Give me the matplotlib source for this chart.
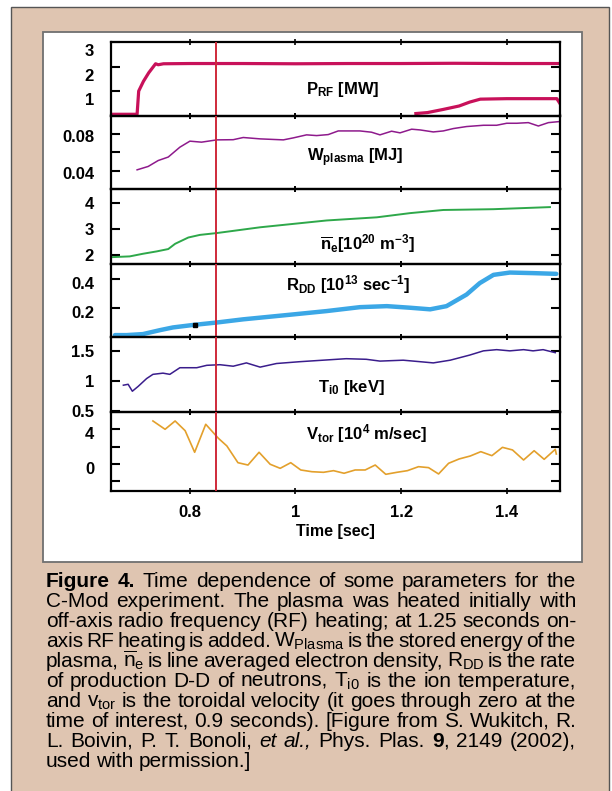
import numpy as np
import matplotlib.pyplot as plt
import matplotlib.transforms as mtransforms
from matplotlib.patches import Rectangle

plt.rcParams['font.family'] = ['Liberation Sans', 'DejaVu Sans']
plt.rcParams['mathtext.fontset'] = 'custom'
plt.rcParams['mathtext.rm'] = 'Liberation Sans'
plt.rcParams['mathtext.bf'] = 'Liberation Sans:bold'
plt.rcParams['mathtext.it'] = 'Liberation Sans:italic'
plt.rcParams['mathtext.sf'] = 'Liberation Sans'

# --- data ---
t_rf1 = [0.65, 0.700, 0.703, 0.712, 0.722, 0.735, 0.74, 0.75, 0.8, 0.9, 1.0, 1.1, 1.2, 1.3, 1.4, 1.5]
p_rf1 = [0.05, 0.05, 1.0, 1.4, 1.75, 2.12, 2.08, 2.12, 2.13, 2.13, 2.12, 2.13, 2.13, 2.14, 2.13, 2.13]
t_rf2 = [1.228, 1.25, 1.28, 1.31, 1.33, 1.35, 1.40, 1.45, 1.495, 1.50]
p_rf2 = [0.08, 0.12, 0.25, 0.39, 0.55, 0.67, 0.69, 0.69, 0.69, 0.52]

t_w = [0.700, 0.721, 0.740, 0.759, 0.781, 0.800, 0.822, 0.851, 0.882, 0.901, 0.933, 0.977, 0.996,
       1.021, 1.040, 1.062, 1.081, 1.122, 1.144, 1.160, 1.182, 1.198, 1.220, 1.236, 1.261, 1.280,
       1.299, 1.324, 1.356, 1.381, 1.400, 1.419, 1.441, 1.460, 1.479, 1.499]
w_plasma = [0.041, 0.0447, 0.0512, 0.055, 0.0658, 0.0724, 0.0713, 0.0738, 0.074, 0.0764, 0.0749,
            0.0738, 0.076, 0.0793, 0.0785, 0.0796, 0.0836, 0.0836, 0.0822, 0.0793, 0.0833, 0.0815,
            0.0855, 0.0847, 0.0825, 0.0836, 0.0862, 0.0884, 0.0898, 0.0898, 0.092, 0.092, 0.0927,
            0.089, 0.0927, 0.0938]

t_ne = [0.65, 0.686, 0.711, 0.737, 0.759, 0.772, 0.797, 0.819, 0.851, 0.933, 1.059, 1.154, 1.217,
        1.280, 1.375, 1.482]
n_e = [1.92, 1.95, 2.05, 2.14, 2.23, 2.43, 2.67, 2.77, 2.84, 3.06, 3.32, 3.44, 3.60, 3.72, 3.75, 3.83]

t_rdd = [0.658, 0.680, 0.711, 0.743, 0.768, 0.806, 0.851, 0.901, 0.996, 1.059, 1.122, 1.173,
         1.217, 1.255, 1.286, 1.324, 1.349, 1.375, 1.406, 1.450, 1.494]
r_dd = [0.011, 0.011, 0.018, 0.045, 0.064, 0.081, 0.098, 0.12, 0.154, 0.177, 0.204, 0.211,
        0.200, 0.189, 0.211, 0.291, 0.370, 0.427, 0.443, 0.439, 0.434]
t_rdd_dot = [0.81]
r_dd_dot = [0.083]

t_ti = [0.674, 0.683, 0.691, 0.702, 0.718, 0.730, 0.749, 0.762, 0.781, 0.813, 0.832, 0.857, 0.882,
        0.907, 0.933, 0.964, 1.008, 1.052, 1.096, 1.134, 1.160, 1.204, 1.236, 1.261, 1.293, 1.330,
        1.356, 1.381, 1.406, 1.432, 1.450, 1.469, 1.492]
t_i0 = [0.93, 0.945, 0.83, 0.91, 1.04, 1.11, 1.13, 1.11, 1.22, 1.22, 1.26, 1.27, 1.245, 1.30, 1.23,
        1.29, 1.32, 1.345, 1.37, 1.36, 1.33, 1.345, 1.32, 1.30, 1.345, 1.43, 1.50, 1.52, 1.50, 1.52,
        1.50, 1.52, 1.47]

t_v = [0.730, 0.753, 0.772, 0.791, 0.809, 0.830, 0.854, 0.870, 0.891, 0.910, 0.931, 0.952, 0.971,
       0.991, 1.010, 1.031, 1.053, 1.072, 1.092, 1.113, 1.132, 1.151, 1.171, 1.192, 1.212, 1.233,
       1.252, 1.271, 1.290, 1.310, 1.331, 1.351, 1.372, 1.392, 1.411, 1.432, 1.452, 1.471, 1.492, 1.494]
v_tor = [4.96, 4.0, 4.96, 3.84, 1.35, 4.58, 2.96, 2.08, 0.15, -0.12, 1.35, -0.03, -0.5, 0.15, -0.69,
         -0.89, -0.96, -0.77, -1.07, -0.69, -0.69, -0.12, -1.19, -0.96, -0.77, -0.31, -0.42, -1.15,
         0.08, 0.58, 0.92, 1.42, 0.96, 1.92, 1.62, 0.46, 1.53, 0.54, 1.69, 1.15]

t_marker = 0.85

caption_lines = [
    r"*Figure *4. Time dependence of some parameters for the",
    r"C-Mod experiment. The plasma was heated initially with",
    r"off-axis radio frequency (RF) heating; at 1.25 seconds on-",
    r"axis RF heating is added. W$_{\mathrm{Plasma}}$ is the stored energy of the",
    r"plasma, $\overline{\mathrm{n}}_{\mathrm{e}}$ is line averaged electron density, R$_{\mathrm{DD}}$ is the rate",
    r"of production D-D of neutrons, T$_{\mathrm{i0}}$ is the ion temperature,",
    r"and v$_{\mathrm{tor}}$ is the toroidal velocity (it goes through zero at the",
    r"time of interest, 0.9 seconds). [Figure from S. Wukitch, R.",
    r"L. Boivin, P. T. Bonoli, ~et ~al., Phys. Plas. $\mathbf{9}$, 2149 (2002),",
    r"used with permission.]",
]

W, H = 612, 791
fig = plt.figure(figsize=(6.12, 7.91), dpi=100)


def fx(px):
    return px / W


def fy(py):
    return 1 - py / H


# background frame and white panel
fig.patches.append(Rectangle((fx(11), fy(800)), fx(598), (800 - 7.5) / H, transform=fig.transFigure,
                             facecolor='#dfc5b1', edgecolor='#555555', lw=1.0, zorder=-2))
fig.patches.append(Rectangle((fx(43), fy(562)), fx(539), 530 / H, transform=fig.transFigure,
                             facecolor='white', edgecolor='#707070', lw=1.3, zorder=-1))

bounds = [42.3, 115.5, 189, 264, 336.7, 412.3, 490.7]
x0, x1 = 110.7, 560.0
axes = []
for i in range(6):
    ax = fig.add_axes([fx(x0), fy(bounds[i + 1]), fx(x1 - x0), (bounds[i + 1] - bounds[i]) / H])
    ax.patch.set_alpha(0)
    axes.append(ax)

ylims = [(0, 3), (0.02, 0.1005), (1.66, 4.52), (0.0, 0.502), (0.48, 1.735), (-3.08, 5.96)]
yticks = [[1, 2, 3], [0.04, 0.06, 0.08], [2, 3, 4], [0.2, 0.4], [0.5, 1, 1.5], [-2, 0, 2, 4]]
yticklabels = [['1', '2', '3'], ['0.04', '', '0.08'], ['2', '3', '4'], ['0.2', '0.4'],
               ['0.5', '1', '1.5'], ['', '0', '', '4']]
label_shift = [8, 2, 0, 4, 0, 4]
labels = [r"P$_{\mathbf{RF}}$ [MW]",
          r"W$_{\mathbf{plasma}}$ [MJ]",
          r"$\mathbf{\overline{n}_{e}}$[10$^{\mathbf{20}}$ m$^{\mathbf{-3}}$]",
          r"R$_{\mathbf{DD}}$ [10$^{\mathbf{13}}$ sec$^{\mathbf{-1}}$]",
          r"T$_{\mathbf{i0}}$ [keV]",
          r"V$_{\mathbf{tor}}$ [10$^{\mathbf{4}}$ m/sec]"]
label_pos = [(0.435, 0.294), (0.436, 0.381), (0.466, 0.20), (0.39, 0.642), (0.462, 0.265), (0.435, 0.66)]

axes[0].plot(t_rf1, p_rf1, color='#c8115a', lw=2.3)
axes[0].plot(t_rf2, p_rf2, color='#c8115a', lw=2.3)
axes[1].plot(t_w, w_plasma, color='#8e1a8c', lw=1.1)
axes[2].plot(t_ne, n_e, color='#2ea84a', lw=1.4)
axes[3].plot(t_rdd, r_dd, color='#3ba7e6', lw=3.2, solid_capstyle='round')
axes[3].plot(t_rdd_dot, r_dd_dot, 's', color='black', ms=2.5)
axes[4].plot(t_ti, t_i0, color='#3a1d8c', lw=1.1)
axes[5].plot(t_v, v_tor, color='#e3a02c', lw=1.2)

for i, ax in enumerate(axes):
    ax.set_xlim(0.65, 1.501)
    ax.set_ylim(*ylims[i])
    ax.set_xticks([0.8, 1.0, 1.2, 1.4])
    ax.set_xticklabels(['0.8', '1', '1.2', '1.4'], fontweight='bold')
    ax.set_yticks(yticks[i])
    ax.set_yticklabels(yticklabels[i], fontweight='bold')
    ax.axvline(t_marker, color='#cf2a3a', lw=1.4, zorder=5)
    for s in ax.spines.values():
        s.set_linewidth(1.6)
    ax.tick_params(axis='y', direction='in', length=6.5, width=1.5, left=True, right=True,
                   labelsize=12, pad=12)
    ax.tick_params(axis='x', direction='inout', length=4, width=1.2, top=True, bottom=True,
                   labelsize=12, pad=8, labelbottom=(i == 5))
    off = mtransforms.ScaledTranslation(0, -label_shift[i] / 100, fig.dpi_scale_trans)
    for lbl in ax.get_yticklabels():
        lbl.set_transform(lbl.get_transform() + off)
    ax.text(label_pos[i][0], label_pos[i][1], labels[i], transform=ax.transAxes,
            fontsize=12, fontweight='bold', va='baseline', ha='left')

axes[5].set_xlabel('Time [sec]', fontsize=11.5, fontweight='bold', labelpad=3)

# caption, justified word by word
renderer = fig.canvas.get_renderer()
cap_left, cap_right = 46, 576
for i, line in enumerate(caption_lines):
    words = line.split(' ')
    y = fy(586.7 + 20.0 * i)
    items = []
    for w in words:
        kw = dict(fontsize=15, fontweight='normal', va='baseline', ha='left', color='black')
        if w.startswith('*'):
            w = w[1:]
            kw['fontweight'] = 'bold'
        elif w.startswith('~'):
            w = w[1:]
            kw['fontstyle'] = 'italic'
        items.append(fig.text(0, y, w, **kw))
    widths = [t.get_window_extent(renderer).width for t in items]
    if i < len(caption_lines) - 1:
        gap = (cap_right - cap_left - sum(widths)) / (len(items) - 1)
    else:
        gap = 5.0
    x = cap_left
    for t, wd in zip(items, widths):
        t.set_x(fx(x))
        x += wd + gap

fig.savefig('out.png', dpi=100)
